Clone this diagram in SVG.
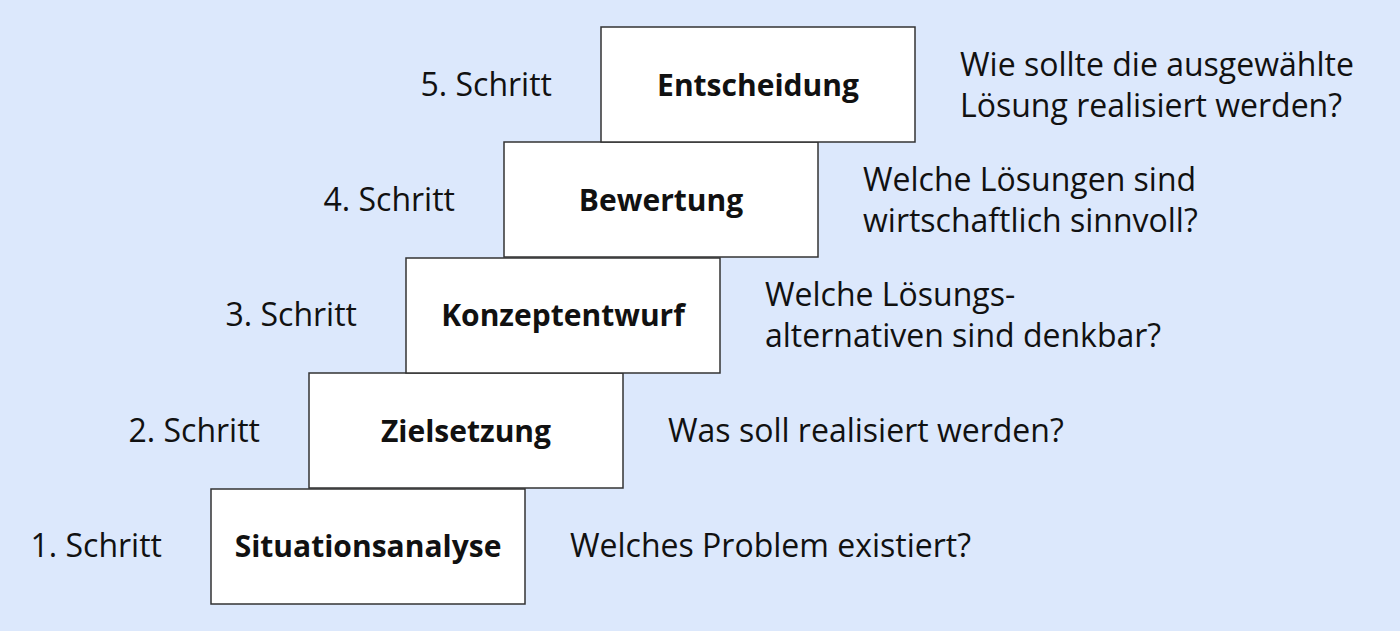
<svg xmlns="http://www.w3.org/2000/svg" width="1400" height="631" viewBox="0 0 1400 631">
<style>
.bg{fill:#dce8fc}
.box{fill:#ffffff;stroke:#333333;stroke-width:1.5}
.t{font-family:"Open Sans","Noto Sans",sans-serif;font-size:32px;fill:#111111}
.b{font-family:"Open Sans","Noto Sans",sans-serif;font-size:30px;font-weight:bold;fill:#111111;text-anchor:middle}
.s{text-anchor:end}
</style>
<rect class="bg" x="0" y="0" width="1400" height="631"/>
<g id="connectors"></g>
<g id="node1">
<rect class="box" x="211" y="489" width="314" height="115"/>
<text class="b" x="368" y="557">Situationsanalyse</text>
<text class="t s" x="162" y="557">1. Schritt</text>
<text class="t" x="570" y="557">Welches Problem existiert?</text>
</g>
<g id="node2">
<rect class="box" x="309" y="373" width="314" height="115"/>
<text class="b" x="466" y="442">Zielsetzung</text>
<text class="t s" x="260" y="442">2. Schritt</text>
<text class="t" x="668" y="442">Was soll realisiert werden?</text>
</g>
<g id="node3">
<rect class="box" x="406" y="258" width="314" height="115"/>
<text class="b" x="563" y="326">Konzeptentwurf</text>
<text class="t s" x="357" y="326">3. Schritt</text>
<text class="t" x="765" y="306">Welche Lösungs-</text>
<text class="t" x="765" y="347">alternativen sind denkbar?</text>
</g>
<g id="node4">
<rect class="box" x="504" y="142" width="314" height="115"/>
<text class="b" x="661" y="211">Bewertung</text>
<text class="t s" x="455" y="211">4. Schritt</text>
<text class="t" x="863" y="191">Welche Lösungen sind</text>
<text class="t" x="863" y="232">wirtschaftlich sinnvoll?</text>
</g>
<g id="node5">
<rect class="box" x="601" y="27" width="314" height="115"/>
<text class="b" x="758" y="96">Entscheidung</text>
<text class="t s" x="552" y="96">5. Schritt</text>
<text class="t" x="960" y="76">Wie sollte die ausgewählte</text>
<text class="t" x="960" y="117">Lösung realisiert werden?</text>
</g>
</svg>
